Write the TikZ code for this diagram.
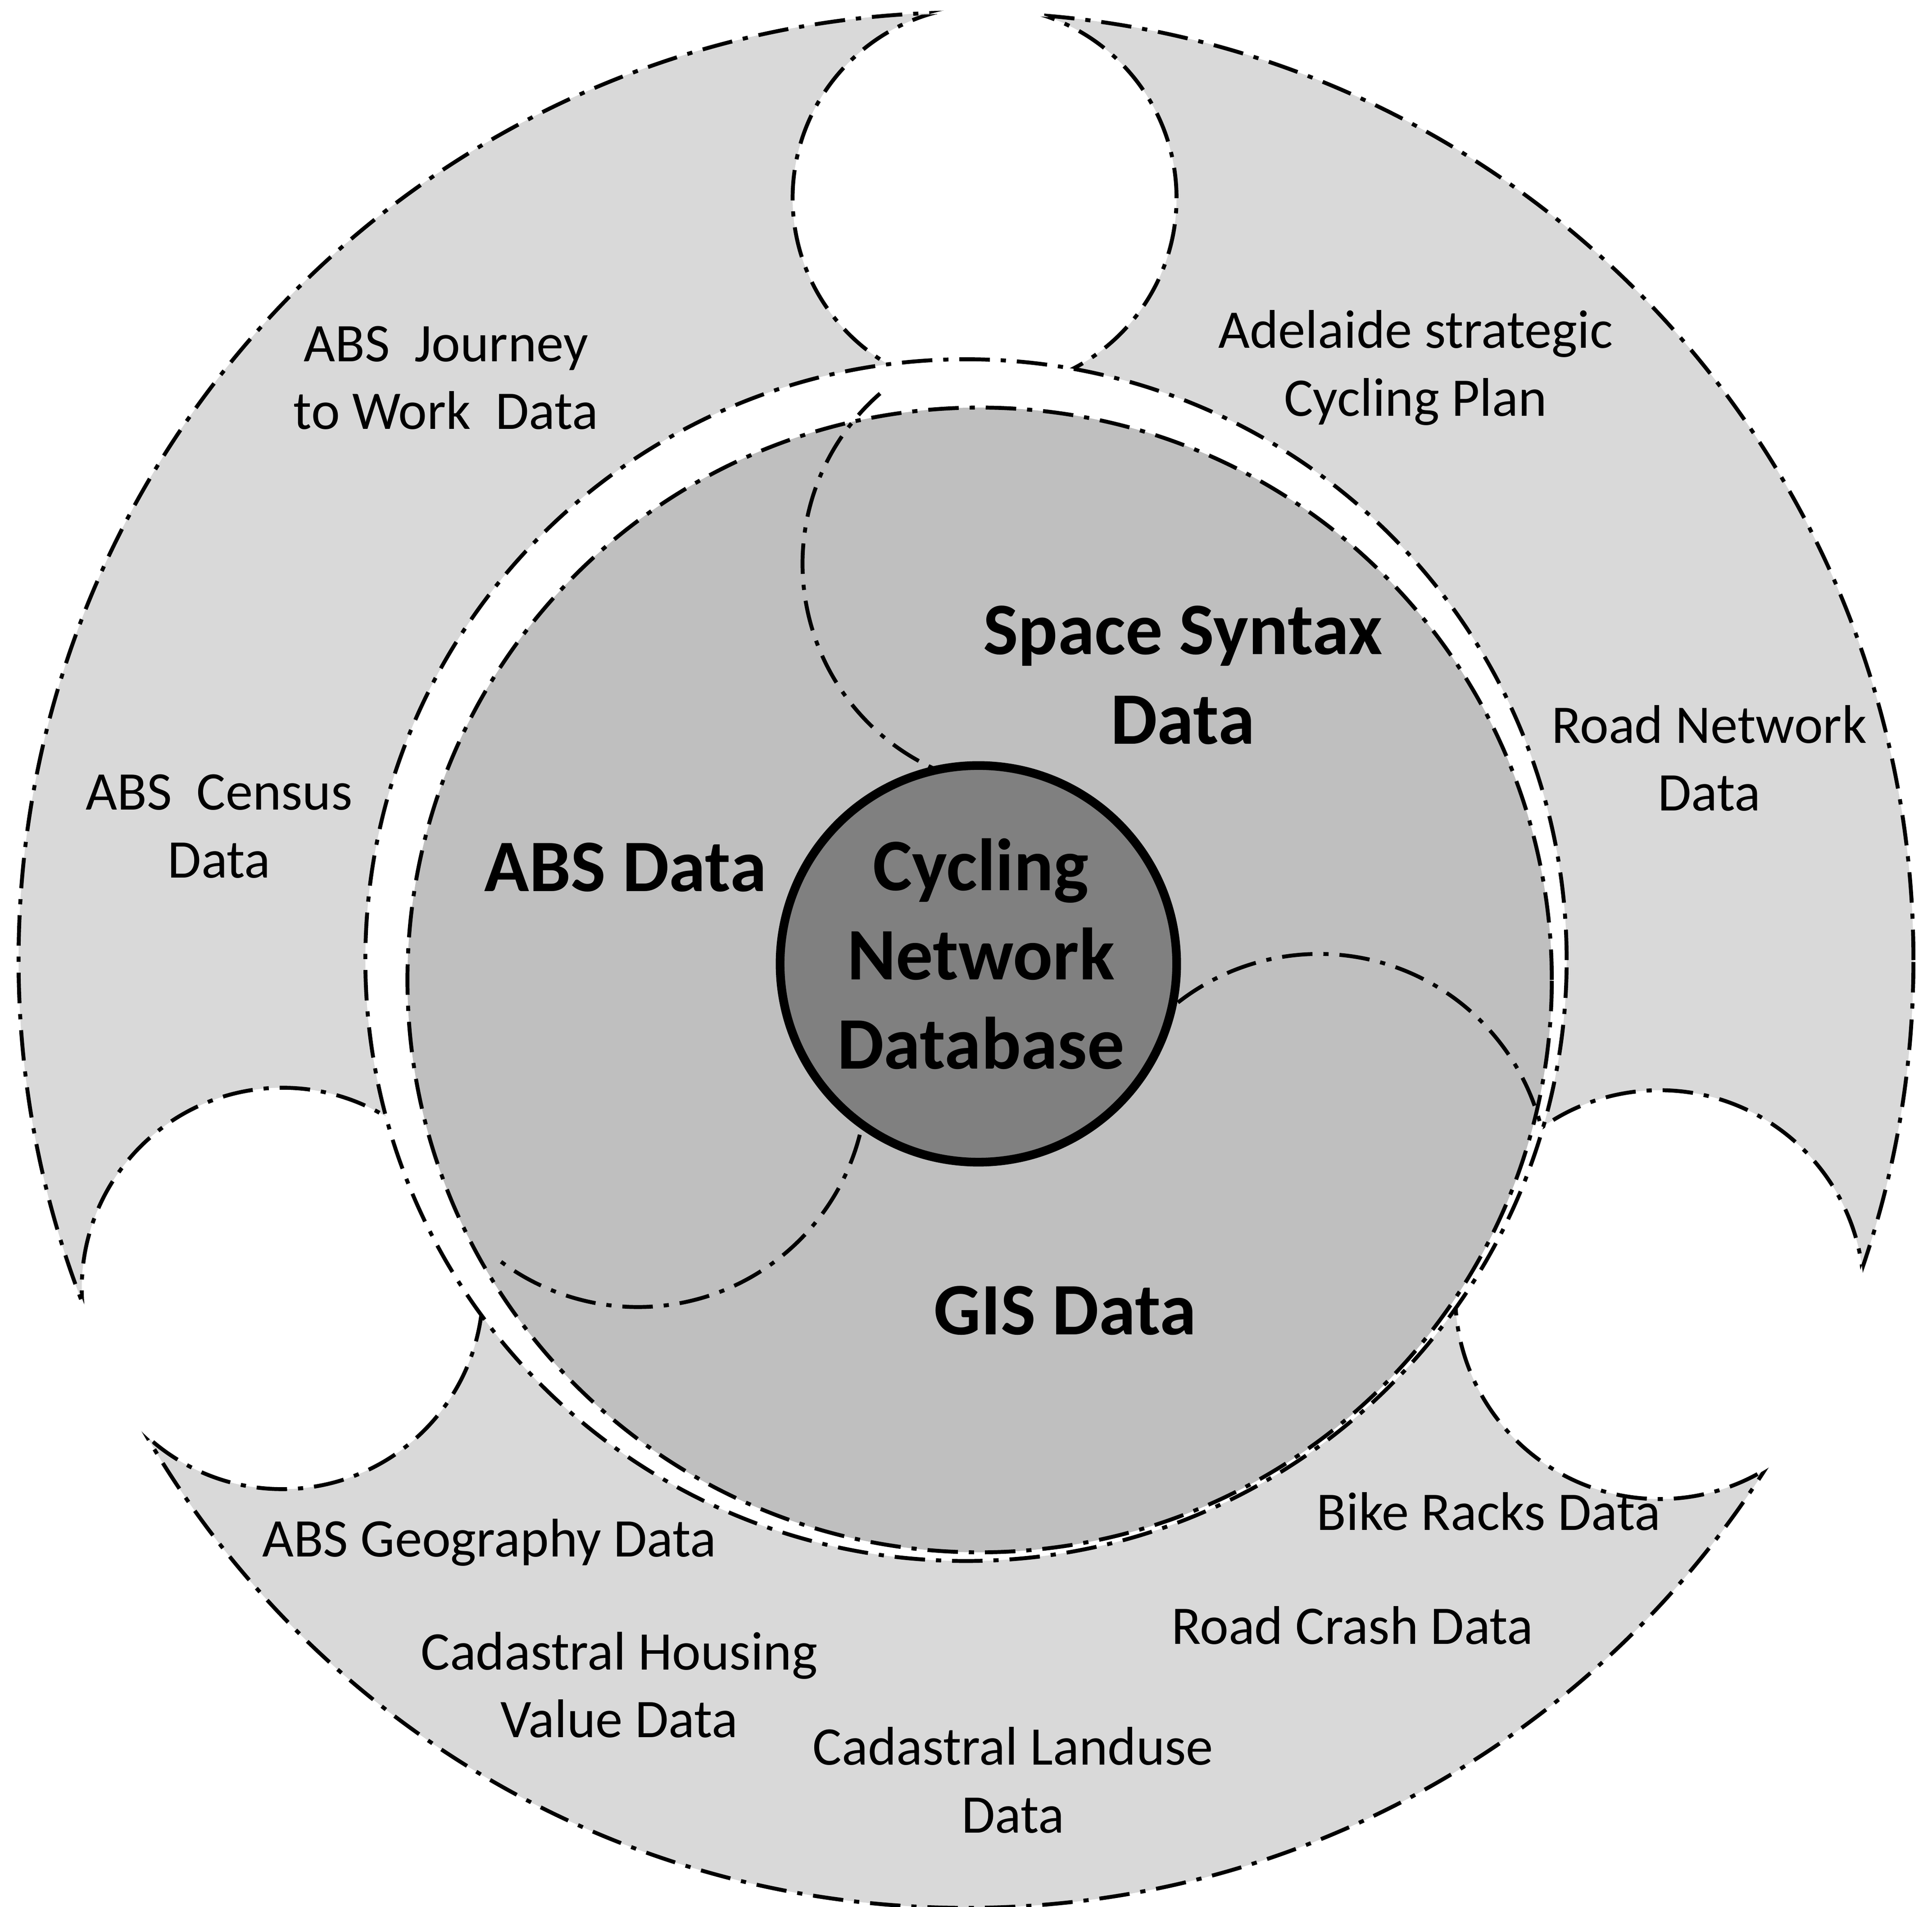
\documentclass[tikz,border=0pt]{standalone}
\usepackage{fontspec}
\setmainfont{Carlito}
\begin{document}
\begin{tikzpicture}[x=0.01cm,y=0.01cm,
  dd/.style={line width=0.9pt,dash pattern=on 7pt off 2.5pt on 1.2pt off 2.5pt},
  small/.style={align=center,font=\fontsize{12.5}{15.6}\selectfont},
  big/.style={align=center,font=\fontsize{17}{20.5}\selectfont\bfseries}]
\useasboundingbox (0,0) rectangle (1560,1539);
% outer ring
\fill[gray!30] (780,764) circle (765);
\draw[dd] (780,764) circle (765);
\begin{scope}
\clip (780,764) circle (768);
\foreach \p/\r in {{(795,1379)}/155,{(228,499)}/162,{(1340,494)}/165}
  \fill[white] \p circle (\r);
\end{scope}
\begin{scope}
\clip (780,764) circle (764);
\foreach \p/\r in {{(795,1379)}/155,{(228,499)}/162,{(1340,494)}/165}
  \draw[dd] \p circle (\r);
\end{scope}
\draw[dd,fill=white] (780,764) circle (485);
% inner
\fill[gray!50] (791,748) circle (462);
\draw[dd] (791,748) circle (462);
\draw[dd] (830,1084) ++(131:182) arc (131:246:182);
\draw[dd] (1065,584) ++(128:185) arc (128:15:185);
\draw[dd] (515,669) ++(0:185) arc (0:-128:185);
\node[circle,draw,line width=2pt,fill=gray,minimum size=3.2cm] (c) at (790,761) {};
\node[big] (cnd) at (792,769) {Cycling\\Network\\Database};
\node[big] (ss) at (955,994) {Space Syntax\\Data};
\node[big] (abs) at (505,839) {ABS Data};
\node[big] (gis) at (860,481) {GIS Data};
\node[small] (j) at (360,1234) {ABS\ \ Journey\\to Work\ \ Data};
\node[small] (ce) at (177,872) {ABS\ \ Census\\Data};
\node[small] (ad) at (1143,1242) {Adelaide strategic\\Cycling Plan};
\node[small] (rn) at (1380,927) {Road Network\\Data};
\node[small] (geo) at (395,294) {ABS Geography Data};
\node[small] (ch) at (500,179) {Cadastral Housing\\Value Data};
\node[small] (cl) at (818,102) {Cadastral Landuse\\Data};
\node[small] (br) at (1202,319) {Bike Racks Data};
\node[small] (rc) at (1092,227) {Road Crash Data};
\end{tikzpicture}
\end{document}
